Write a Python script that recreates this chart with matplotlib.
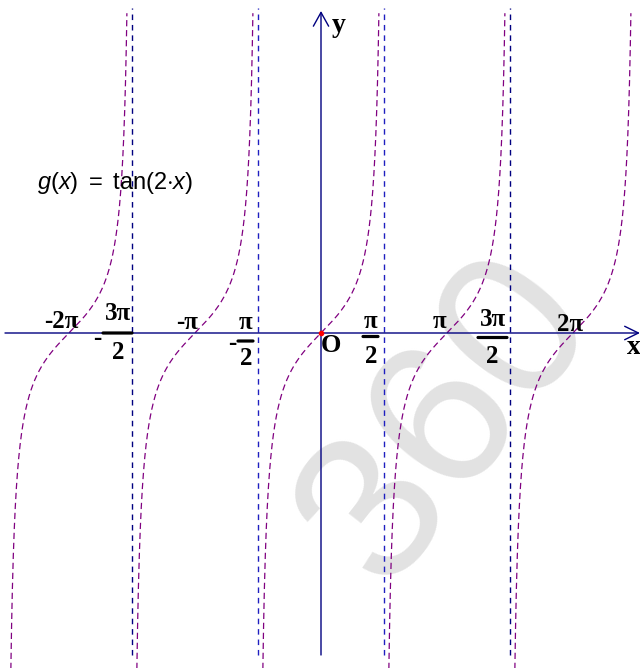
import numpy as np
import matplotlib
matplotlib.use("Agg")
import matplotlib.pyplot as plt
from matplotlib.transforms import offset_copy

plt.rcParams["mathtext.fontset"] = "custom"
plt.rcParams["mathtext.rm"] = "Liberation Sans"
plt.rcParams["mathtext.it"] = "Liberation Sans:italic"

# --- data -------------------------------------------------------------
branch_centers = [-2, -1, 0, 1, 2]              # branch k is centred on k*pi
asymptotes = [-1.5, -0.5, 0.5, 1.5]             # multiples of pi
asymptote_colors = ["#000080", "#1f1fc0", "#1f1fc0", "#000080"]
y_clip = (-8.3, 7.8)
title = r"$g\mathrm{(}x\mathrm{)}\ \mathrm{=}\ \mathrm{tan(2{\cdot}}x\mathrm{)}$"

# --- figure / axes ----------------------------------------------------
W, H = 640, 668
fig = plt.figure(figsize=(W / 100, H / 100), dpi=100)
ax = fig.add_axes([0, 0, 1, 1])
ax.axis("off")

px_per_x = 126 / np.pi
px_per_y = 41.0
ox, oy = 321, 333
ax.set_xlim(-ox / px_per_x, (W - ox) / px_per_x)
ax.set_ylim(-(H - oy) / px_per_y, oy / px_per_y)

navy = "#000080"
purple = "#800080"

# light grey background mark
ax.text(0.70, 0.37, "360", transform=ax.transAxes, fontsize=150,
        color="#e2e2e2", rotation=52, ha="center", va="center",
        family="Liberation Sans", zorder=0)

# axes with arrow heads
xl, xr = ax.get_xlim()
ax.annotate("", xy=(xr, 0), xytext=(xl + 5 / px_per_x, 0),
            arrowprops=dict(arrowstyle="->,head_length=0.45,head_width=0.22",
                            color=navy, lw=1.0, mutation_scale=22,
                            shrinkA=0, shrinkB=0), zorder=3)
ax.annotate("", xy=(0, (oy - 11) / px_per_y), xytext=(0, -(655 - oy) / px_per_y),
            arrowprops=dict(arrowstyle="->,head_length=0.45,head_width=0.25",
                            color=navy, lw=1.0, mutation_scale=22,
                            shrinkA=0, shrinkB=0), zorder=3)

# vertical asymptotes
for a, c in zip(asymptotes, asymptote_colors):
    ax.plot([a * np.pi, a * np.pi], [-(655 - oy) / px_per_y, (oy - 8) / px_per_y],
            color=c, lw=1.0, ls=(0, (4, 3.5)), zorder=2)

# tangent branches
for k in branch_centers:
    lo = k * np.pi - np.pi / 2 + np.arctan(1 / -y_clip[0])
    hi = k * np.pi + np.pi / 2 - np.arctan(1 / y_clip[1])
    x = np.linspace(lo, hi, 600)
    y = np.tan(x)
    ax.plot(x, y, color=purple, lw=0.9, ls=(0, (5, 3)), zorder=2)

# origin point
ax.plot([0], [0], "o", color="red", ms=3, zorder=4)

# --- labels -----------------------------------------------------------
lab = dict(family="Liberation Serif", fontweight="bold", color="black",
           ha="center", va="center")


def put(text, xv, dx, dy, size=18):
    ax.annotate(text, xy=(xv, 0), xytext=(dx, dy), textcoords="offset pixels",
                fontsize=size, zorder=5, **lab)


def bar(xv, dx1, dx2, dy):
    t1 = offset_copy(ax.transData, fig=fig, x=dx1, y=dy, units="dots")
    t2 = offset_copy(ax.transData, fig=fig, x=dx2, y=dy, units="dots")
    ax.annotate("", xy=(xv, 0), xycoords=t1, xytext=(xv, 0), textcoords=t2,
                arrowprops=dict(arrowstyle="-", color="black", lw=2.3,
                                shrinkA=0, shrinkB=0), zorder=5)


P = np.pi
# whole multiples of pi
put("-2π", -2 * P, -8, 11)
put("-π", -1 * P, -8, 10)
put("π", 1 * P, -7, 11)
put("2π", 2 * P, -3, 8)
# -3π/2
put("3π", -1.5 * P, -14, 19)
bar(-1.5 * P, -29, 0, 0)
put("2", -1.5 * P, -14, -20)
put("-", -1.5 * P, -35, -6)
# -π/2
put("π", -0.5 * P, -12, 10)
bar(-0.5 * P, -20, -5, -8)
put("2", -0.5 * P, -12, -26)
put("-", -0.5 * P, -26, -11)
# π/2
put("π", 0.5 * P, -13, 11)
bar(0.5 * P, -21, -6, -3.5)
put("2", 0.5 * P, -13, -24)
# 3π/2
put("3π", 1.5 * P, -17, 13)
bar(1.5 * P, -32, -3, -4.5)
put("2", 1.5 * P, -18, -24)

# origin and axis names
ax.annotate("O", xy=(0, 0), xytext=(10, -13), textcoords="offset pixels",
            fontsize=19, **lab)
ax.annotate("y", xy=(0, 0), xytext=(18, oy - 26), textcoords="offset pixels",
            fontsize=20, **lab)
ax.annotate("x", xy=(xr, 0), xytext=(-6, -15), textcoords="offset pixels",
            fontsize=20, **lab)

fig.text(37 / W, 1 - 183 / H, title, fontsize=17, ha="left", va="center")

fig.savefig("out.png", dpi=100)
